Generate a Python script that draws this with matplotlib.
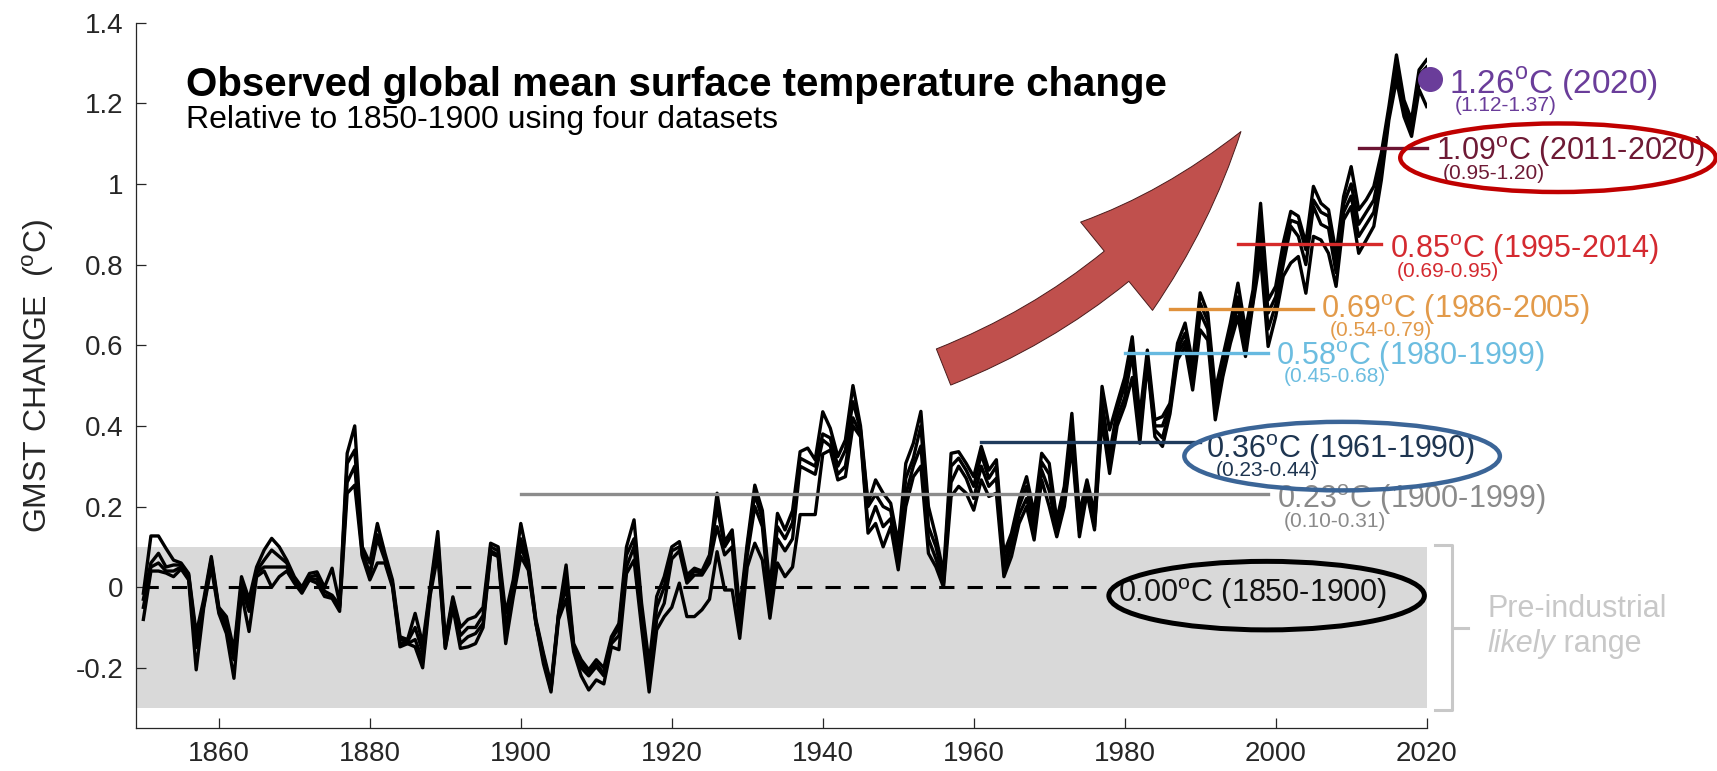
import matplotlib
matplotlib.use("Agg")
import matplotlib.pyplot as plt
import numpy as np
from matplotlib.patches import Ellipse

plt.rcParams["font.family"] = ["Liberation Sans", "DejaVu Sans"]
plt.rcParams["mathtext.fontset"] = "custom"
plt.rcParams["mathtext.rm"] = "Liberation Sans"

# annual GMST change (degC, relative to 1850-1900), four datasets
YEARS = np.arange(1850, 2021)

gmst_a = [
    -0.015, 0.127, 0.127, 0.096, 0.067, 0.060, 0.034, -0.115, -0.030, 0.076,
    -0.050, -0.073, -0.156, 0.026, -0.030, 0.050, 0.092, 0.121, 0.100, 0.067,
    0.026, 0.000, 0.034, 0.038, 0.000, 0.047, -0.040, 0.332, 0.400, 0.100,
    0.060, 0.158, 0.084, 0.018, -0.123, -0.130, -0.065, -0.140, 0.000, 0.138,
    -0.130, -0.024, -0.100, -0.080, -0.073, -0.050, 0.109, 0.100, -0.065, 0.018,
    0.158, 0.067, -0.080, -0.164, -0.240, -0.065, 0.055, -0.140, -0.180, -0.205,
    -0.180, -0.200, -0.123, -0.090, 0.100, 0.167, -0.040, -0.190, -0.023, 0.026,
    0.100, 0.113, 0.030, 0.047, 0.040, 0.080, 0.233, 0.113, 0.142, -0.056,
    0.109, 0.253, 0.190, 0.000, 0.183, 0.142, 0.190, 0.336, 0.345, 0.316,
    0.435, 0.394, 0.324, 0.365, 0.500, 0.400, 0.208, 0.266, 0.233, 0.208,
    0.109, 0.307, 0.357, 0.436, 0.200, 0.125, 0.034, 0.332, 0.336, 0.307,
    0.274, 0.349, 0.290, 0.316, 0.084, 0.134, 0.216, 0.274, 0.183, 0.332,
    0.307, 0.167, 0.250, 0.431, 0.183, 0.266, 0.183, 0.498, 0.390, 0.456,
    0.520, 0.621, 0.423, 0.588, 0.415, 0.423, 0.456, 0.605, 0.655, 0.555,
    0.730, 0.680, 0.489, 0.572, 0.655, 0.754, 0.638, 0.737, 0.952, 0.712,
    0.746, 0.853, 0.932, 0.920, 0.853, 0.994, 0.952, 0.936, 0.828, 0.969,
    1.043, 0.936, 0.961, 0.994, 1.077, 1.192, 1.320, 1.208, 1.159, 1.283,
    1.308,
]
gmst_b = [
    -0.030, 0.060, 0.084, 0.050, 0.055, 0.055, 0.030, -0.130, -0.040, 0.070,
    -0.055, -0.085, -0.170, 0.010, -0.050, 0.040, 0.067, 0.092, 0.076, 0.060,
    0.018, -0.005, 0.025, 0.030, -0.010, -0.020, -0.045, 0.307, 0.340, 0.090,
    0.034, 0.130, 0.075, 0.010, -0.130, -0.135, -0.100, -0.160, -0.007, 0.120,
    -0.140, -0.030, -0.120, -0.100, -0.100, -0.070, 0.100, 0.090, -0.100, 0.000,
    0.120, 0.060, -0.085, -0.170, -0.250, -0.067, 0.030, -0.145, -0.190, -0.210,
    -0.190, -0.214, -0.130, -0.100, 0.080, 0.120, -0.060, -0.220, -0.050, 0.000,
    0.090, 0.100, 0.020, 0.040, 0.034, 0.070, 0.200, 0.100, 0.130, -0.080,
    0.100, 0.230, 0.170, -0.030, 0.150, 0.120, 0.160, 0.320, 0.310, 0.300,
    0.380, 0.370, 0.300, 0.340, 0.460, 0.390, 0.200, 0.230, 0.200, 0.190,
    0.090, 0.270, 0.320, 0.400, 0.150, 0.100, 0.020, 0.300, 0.320, 0.290,
    0.250, 0.330, 0.270, 0.300, 0.060, 0.120, 0.200, 0.250, 0.160, 0.310,
    0.280, 0.150, 0.230, 0.400, 0.160, 0.250, 0.170, 0.460, 0.330, 0.440,
    0.500, 0.600, 0.400, 0.570, 0.400, 0.400, 0.450, 0.590, 0.630, 0.530,
    0.704, 0.660, 0.470, 0.550, 0.630, 0.720, 0.610, 0.720, 0.903, 0.680,
    0.720, 0.830, 0.910, 0.903, 0.837, 0.960, 0.930, 0.920, 0.800, 0.950,
    1.000, 0.900, 0.930, 0.960, 1.050, 1.180, 1.290, 1.190, 1.140, 1.270,
    1.290,
]
gmst_c = [
    -0.050, 0.050, 0.060, 0.040, 0.040, 0.050, 0.020, -0.150, -0.045, 0.060,
    -0.060, -0.100, -0.180, 0.000, -0.060, 0.035, 0.050, 0.050, 0.050, 0.050,
    0.014, -0.010, 0.020, 0.020, -0.020, -0.025, -0.050, 0.260, 0.300, 0.080,
    0.030, 0.120, 0.067, 0.005, -0.140, -0.140, -0.130, -0.180, -0.010, 0.100,
    -0.150, -0.040, -0.140, -0.123, -0.115, -0.090, 0.090, 0.080, -0.120, -0.010,
    0.100, 0.050, -0.090, -0.180, -0.255, -0.070, 0.000, -0.150, -0.200, -0.220,
    -0.197, -0.220, -0.140, -0.120, 0.050, 0.100, -0.080, -0.240, -0.080, -0.040,
    0.070, 0.090, 0.010, 0.030, 0.030, 0.060, 0.150, 0.080, 0.100, -0.100,
    0.080, 0.200, 0.150, -0.050, 0.120, 0.090, 0.120, 0.300, 0.290, 0.280,
    0.365, 0.350, 0.280, 0.300, 0.420, 0.380, 0.150, 0.200, 0.150, 0.170,
    0.060, 0.230, 0.300, 0.350, 0.120, 0.070, 0.010, 0.260, 0.300, 0.270,
    0.220, 0.300, 0.250, 0.270, 0.040, 0.100, 0.180, 0.220, 0.140, 0.290,
    0.240, 0.140, 0.210, 0.370, 0.140, 0.240, 0.150, 0.430, 0.300, 0.420,
    0.470, 0.580, 0.380, 0.560, 0.390, 0.370, 0.440, 0.580, 0.610, 0.510,
    0.680, 0.640, 0.440, 0.530, 0.620, 0.700, 0.590, 0.710, 0.860, 0.640,
    0.700, 0.800, 0.895, 0.870, 0.800, 0.944, 0.900, 0.890, 0.780, 0.930,
    0.970, 0.870, 0.900, 0.930, 1.030, 1.170, 1.270, 1.180, 1.130, 1.250,
    1.250,
]
gmst_d = [
    -0.080, 0.040, 0.040, 0.035, 0.026, 0.045, 0.018, -0.205, -0.050, 0.050,
    -0.065, -0.115, -0.226, -0.015, -0.110, 0.026, 0.040, 0.000, 0.026, 0.040,
    0.010, -0.015, 0.018, 0.010, -0.023, -0.028, -0.060, 0.233, 0.253, 0.076,
    0.018, 0.060, 0.060, 0.000, -0.148, -0.140, -0.148, -0.200, -0.020, 0.080,
    -0.152, -0.050, -0.152, -0.148, -0.140, -0.100, 0.084, 0.076, -0.140, -0.024,
    0.076, 0.042, -0.090, -0.190, -0.260, -0.080, -0.030, -0.160, -0.220, -0.255,
    -0.230, -0.240, -0.148, -0.155, 0.034, 0.067, -0.100, -0.260, -0.106, -0.073,
    -0.050, 0.010, -0.073, -0.073, -0.056, -0.030, 0.088, -0.007, -0.007, -0.127,
    0.050, 0.109, 0.067, -0.077, 0.060, 0.026, 0.050, 0.180, 0.180, 0.180,
    0.330, 0.340, 0.266, 0.274, 0.400, 0.373, 0.134, 0.158, 0.100, 0.150,
    0.043, 0.200, 0.274, 0.300, 0.084, 0.050, 0.000, 0.225, 0.250, 0.233,
    0.191, 0.266, 0.225, 0.233, 0.026, 0.076, 0.158, 0.200, 0.117, 0.266,
    0.200, 0.125, 0.200, 0.349, 0.125, 0.233, 0.142, 0.415, 0.282, 0.400,
    0.450, 0.520, 0.357, 0.555, 0.373, 0.349, 0.430, 0.564, 0.597, 0.489,
    0.638, 0.613, 0.415, 0.522, 0.605, 0.671, 0.572, 0.704, 0.820, 0.597,
    0.671, 0.771, 0.804, 0.820, 0.729, 0.870, 0.861, 0.828, 0.746, 0.911,
    0.944, 0.828, 0.861, 0.895, 1.010, 1.159, 1.258, 1.167, 1.118, 1.234,
    1.192,
]

# period means: (start, end, mean, likely range)
PERIOD_START = [1900, 1961, 1980, 1986, 1995, 2011]
PERIOD_END = [1999, 1990, 1999, 2005, 2014, 2020]
PERIOD_MEAN = [0.23, 0.36, 0.58, 0.69, 0.85, 1.09]
PERIOD_RANGE = ["0.10-0.31", "0.23-0.44", "0.45-0.68", "0.54-0.79", "0.69-0.95", "0.95-1.20"]
PERIOD_LINE = ["#8c8c8c", "#1f3b5c", "#66b9e0", "#e0913b", "#d62a2a", "#6b1533"]
PERIOD_TEXT = ["#8a8a8a", "#1e3550", "#6cbde0", "#e29a4a", "#d42a30", "#6e1a35"]
# label placement (start year of label, baseline of main / range text)
LABEL_X = [2000.2, 1990.8, 2000.1, 2006.0, 2015.2, 2021.3]
LABEL_Y = [0.196, 0.320, 0.551, 0.667, 0.816, 1.060]
RANGE_X = [2001.1, 1992.1, 2001.1, 2007.2, 2016.1, 2022.1]
RANGE_Y = [0.148, 0.276, 0.508, 0.624, 0.770, 1.013]

LAST_YEAR = 2020
LAST_VALUE = 1.26
LAST_RANGE = "1.12-1.37"
PURPLE = "#6a3d9a"

fig = plt.figure(figsize=(17.17, 7.71), dpi=100)
ax = fig.add_axes([0.0791, 0.0554, 0.7518, 0.9152])
ax.set_xlim(1849, 2020)
ax.set_ylim(-0.35, 1.4)

# pre-industrial likely range
ax.axhspan(-0.3, 0.1, color="#d9d9d9", lw=0, zorder=0)

# 1850-1900 baseline
ax.plot([1850, 1977], [0, 0], color="black", lw=2.2, ls=(0, (5, 4.3)), zorder=2)

for series in (gmst_a, gmst_b, gmst_c, gmst_d):
    ax.plot(YEARS, series, color="black", lw=2.4, zorder=3)

for i in range(len(PERIOD_MEAN)):
    ax.plot([PERIOD_START[i], PERIOD_END[i]], [PERIOD_MEAN[i]] * 2,
            color=PERIOD_LINE[i], lw=2.4, zorder=4, clip_on=False)
    ax.text(LABEL_X[i], LABEL_Y[i],
            f"{PERIOD_MEAN[i]:.2f}$^{{\\mathrm{{o}}}}$C ({PERIOD_START[i]}-{PERIOD_END[i]})",
            color=PERIOD_TEXT[i], fontsize=22, va="baseline", ha="left", zorder=6, clip_on=False)
    ax.text(RANGE_X[i], RANGE_Y[i], f"({PERIOD_RANGE[i]})",
            color=PERIOD_TEXT[i], fontsize=15, va="baseline", ha="left", zorder=6, clip_on=False)

ax.text(1979.1, -0.036, "0.00$^{\\mathrm{o}}$C (1850-1900)", color="#111111",
        fontsize=22, va="baseline", ha="left", zorder=6)

# latest year
ax.plot([LAST_YEAR + 0.5], [LAST_VALUE], "o", color=PURPLE, ms=17, zorder=7, clip_on=False)
ax.text(2022.9, 1.225, f"{LAST_VALUE:.2f}$^{{\\mathrm{{o}}}}$C ({LAST_YEAR})", color=PURPLE,
        fontsize=24, va="baseline", ha="left", clip_on=False)
ax.text(2023.7, 1.180, f"({LAST_RANGE})", color=PURPLE, fontsize=15,
        va="baseline", ha="left", clip_on=False)

# highlight ellipses
for (cx, cy), col, lw in [((1998.8, -0.021), "black", 3.6),
                          ((2008.8, 0.325), "#3b6597", 3.2),
                          ((2037.4, 1.065), "#c00000", 3.2)]:
    ax.add_patch(Ellipse((cx, cy), 41.8, 0.17, fill=False, ec=col, lw=lw,
                         zorder=8, clip_on=False))

# bracket for pre-industrial range
ax.plot([2021.05, 2023.3, 2023.3, 2021.05], [0.105, 0.105, -0.305, -0.305],
        color="#c8c8c8", lw=2.2, clip_on=False)
ax.plot([2023.3, 2025.5], [-0.101, -0.101], color="#c8c8c8", lw=2.2, clip_on=False)
ax.text(2028.0, -0.075, "Pre-industrial", color="#c8c8c8", fontsize=22,
        va="baseline", ha="left", clip_on=False)
t_likely = ax.text(2028.0, -0.160, "likely", color="#c8c8c8", fontsize=22,
                   style="italic", va="baseline", ha="left", clip_on=False)
ax.annotate(" range", xy=(1, 0), xycoords=t_likely, color="#c8c8c8", fontsize=22,
            va="bottom", ha="left")

# big red arrow
ax.annotate("", xy=(1995.4, 1.13), xytext=(1956.0, 0.546),
            arrowprops=dict(arrowstyle="simple,head_width=82,head_length=132,tail_width=28",
                            connectionstyle="arc3,rad=0.15", mutation_scale=1,
                            fc="#c0504d", ec="#4a1c1c", lw=0.7, shrinkA=0, shrinkB=0),
            zorder=1)

# title
ax.text(1855.6, 1.219, "Observed global mean surface temperature change",
        fontsize=29, fontweight="bold", va="baseline", ha="left")
ax.text(1855.6, 1.138, "Relative to 1850-1900 using four datasets",
        fontsize=23, va="baseline", ha="left")

# axes styling
ax.spines["top"].set_visible(False)
ax.spines["right"].set_visible(False)
for side in ("left", "bottom"):
    ax.spines[side].set_color("#262626")
    ax.spines[side].set_linewidth(0.9)
ax.set_xticks(np.arange(1860, 2021, 20))
ax.set_yticks(np.arange(-0.2, 1.41, 0.2))
ax.set_yticklabels(["-0.2", "0", "0.2", "0.4", "0.6", "0.8", "1", "1.2", "1.4"])
ax.tick_params(direction="in", length=7, width=0.9, color="#262626",
               labelsize=20, labelcolor="#262626", pad=9)
ax.set_ylabel("GMST CHANGE  ($^{\\mathrm{o}}$C)", fontsize=23, color="#262626")
ax.yaxis.set_label_coords(-0.062, 0.5)

fig.savefig("out.png", dpi=100)
